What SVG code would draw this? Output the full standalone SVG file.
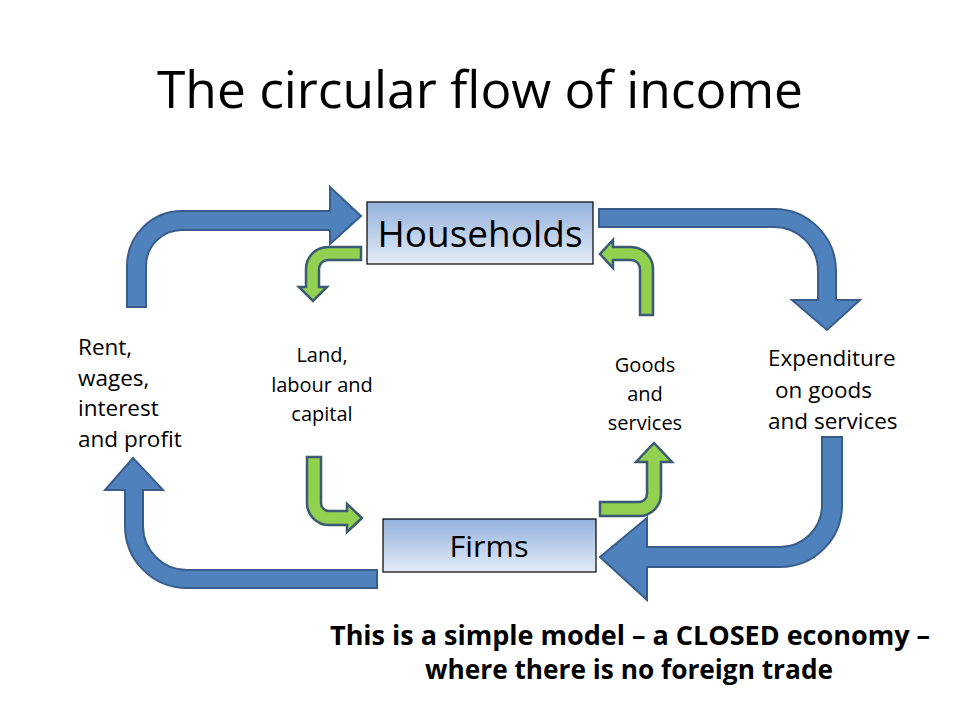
<svg xmlns="http://www.w3.org/2000/svg" width="960" height="720" viewBox="0 0 960 720">
<style>
.blue{fill:#4F81BD;stroke:#385D8A;stroke-width:2;stroke-linejoin:miter}
.green{fill:#92D050;stroke:#3B5A73;stroke-width:2.5;stroke-linejoin:miter}
.box{fill:url(#boxg);stroke:#000;stroke-width:1.2}
text{font-family:"Open Sans","Noto Sans",sans-serif;fill:#000}
.lbl{font-size:22.5px}
.sml{font-size:20px}
.cap{font-size:26px;font-weight:bold}
</style>
<defs>
<linearGradient id="boxg" x1="0" y1="0" x2="0" y2="1">
<stop offset="0" stop-color="#93B1DC"/>
<stop offset="1" stop-color="#E4ECF7"/>
</linearGradient>
</defs>
<rect width="960" height="720" fill="#fff"/>
<text x="480" y="108" font-size="52" text-anchor="middle" textLength="646" lengthAdjust="spacingAndGlyphs">The circular flow of income</text>
<g id="connectors">
<path id="c-income" class="blue" d="M127,307 L127,266 A55,55 0 0 1 182,211 L330,211 L330,187 L361,216 L330,244 L330,230 L182,230 A36,36 0 0 0 146,266 L146,307 Z"/>
<path id="c-expenditure-top" class="blue" d="M599,209 L774,209 A62,62 0 0 1 836,271 L836,300 L860,300 L827,330 L792,300 L818,300 L818,271 A44,44 0 0 0 774,227 L599,227 Z"/>
<path id="c-expenditure-bottom" class="blue" d="M822,437 L842,437 L842,505 A62,62 0 0 1 780,567 L647,567 L647,600 L600,557 L647,518 L647,547 L780,547 A42,42 0 0 0 822,505 Z"/>
<path id="c-rent" class="blue" d="M377,570 L377,588 L187,588 A62,62 0 0 1 125,526 L125,490 L105,490 L133,458 L163,490 L143,490 L143,526 A44,44 0 0 0 187,570 Z"/>
<path id="c-land-top" class="green" d="M361,247 L361,260 L328,260 A9,9 0 0 0 319,269 L319,287 L327,287 L313,301 L299,287 L306,287 L306,269 A22,22 0 0 1 328,247 Z"/>
<path id="c-goods-top" class="green" d="M640,315 L653,315 L653,269 A22,22 0 0 0 631,247 L613,247 L613,240 L600,254 L613,268 L613,260 L631,260 A9,9 0 0 1 640,269 Z"/>
<path id="c-land-bottom" class="green" d="M307,457 L321,457 L321,503 A8,8 0 0 0 329,511 L347,511 L347,504 L362,518 L347,532 L347,525 L329,525 A22,22 0 0 1 307,503 Z"/>
<path id="c-goods-bottom" class="green" d="M600,502 L639,502 A8,8 0 0 0 647,494 L647,462 L636,462 L654,443 L672,462 L661,462 L661,494 A22,22 0 0 1 639,516 L600,516 Z"/>
</g>
<g id="households">
<rect class="box" x="367" y="202" width="226" height="62"/>
<text x="480" y="247" font-size="37" text-anchor="middle" textLength="205" lengthAdjust="spacingAndGlyphs">Households</text>
</g>
<g id="firms">
<rect class="box" x="383" y="519" width="213" height="53"/>
<text x="489" y="557" font-size="30" text-anchor="middle" textLength="79" lengthAdjust="spacingAndGlyphs">Firms</text>
</g>
<g id="label-rent" class="lbl">
<text x="78" y="355">Rent,</text>
<text x="78" y="386">wages,</text>
<text x="78" y="416">interest</text>
<text x="78" y="447">and profit</text>
</g>
<g id="label-land" class="sml" text-anchor="middle">
<text x="322" y="362">Land,</text>
<text x="322" y="392">labour and</text>
<text x="322" y="421">capital</text>
</g>
<g id="label-goods" class="sml" text-anchor="middle">
<text x="645" y="372">Goods</text>
<text x="645" y="401">and</text>
<text x="645" y="430">services</text>
</g>
<g id="label-expenditure" class="lbl">
<text x="768" y="366">Expenditure</text>
<text x="775" y="398">on goods</text>
<text x="768" y="429">and services</text>
</g>
<g id="caption" class="cap" text-anchor="middle">
<text x="630" y="645" textLength="600" lengthAdjust="spacingAndGlyphs">This is a simple model – a CLOSED economy –</text>
<text x="629" y="679" textLength="408" lengthAdjust="spacingAndGlyphs">where there is no foreign trade</text>
</g>
</svg>
